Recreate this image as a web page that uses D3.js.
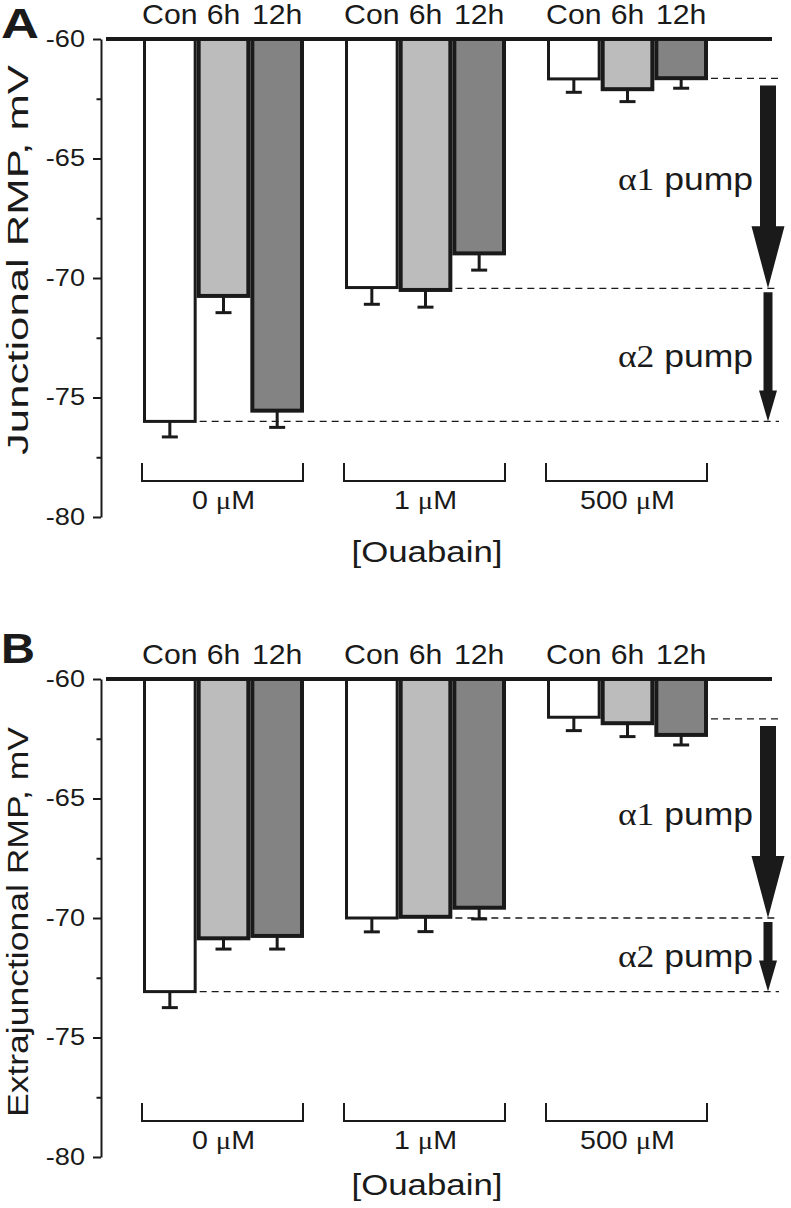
<!DOCTYPE html>
<html>
<head>
<meta charset="utf-8">
<script src="https://cdn.jsdelivr.net/npm/d3@7"></script>
<style>
  body { margin: 0; background: #fff; }
  svg text { font-family: "Liberation Sans", Arial, sans-serif; fill: #1a1a1a; }
  svg .serif { font-family: "Liberation Serif", "Times New Roman", serif; }
</style>
</head>
<body>
<svg id="chart"></svg>
<script>
// data (mV)
const groups = ["0 μM", "1 μM", "500 μM"];
const conditions = ["Con", "6h", "12h"];
const yTicks = [-60, -65, -70, -75, -80];
const yMinorTicks = [-62.5, -67.5, -72.5, -77.5];

// junctional RMP, order: group x condition
const juncMean = [-76.0, -70.75, -75.55, -70.4, -70.5, -68.97, -61.67, -62.1, -61.64];
const juncSE = [0.65, 0.7, 0.7, 0.7, 0.72, 0.7, 0.56, 0.52, 0.42];
const juncLevels = [-61.65, -70.43, -76.0];

// extrajunctional RMP
const extraMean = [-73.08, -70.85, -70.75, -70.0, -69.95, -69.57, -61.6, -61.85, -62.34];
const extraSE = [0.67, 0.45, 0.55, 0.58, 0.62, 0.47, 0.56, 0.56, 0.42];
const extraLevels = [-61.67, -70.0, -73.08];

const pumps = ["1", "2"];

const width = 791;
const height = 1208;
const ink = "#1a1a1a";
const fills = { "Con": "#ffffff", "6h": "#bcbcbc", "12h": "#838383" };
const strokeW = { "Con": 3, "6h": 4, "12h": 4 };

const svg = d3.select("#chart")
  .attr("width", width)
  .attr("height", height);

// widen text the way the figure is widened
function stretch(sel, k) {
  sel.each(function () {
    const w = this.getComputedTextLength();
    d3.select(this)
      .attr("textLength", w * k)
      .attr("lengthAdjust", "spacingAndGlyphs");
  });
}

const xGroup = d3.scaleBand()
  .domain(groups)
  .range([143, 708])
  .paddingInner(41 / 202);

const xCond = d3.scaleBand()
  .domain(conditions)
  .range([0, xGroup.bandwidth()]);

const panels = [
  { letter: "A", top: 0, letterY: 38, letterLen: 38, mean: juncMean, se: juncSE, levels: juncLevels,
    ylabel: "Junctional RMP, mV", ylabelX: 28, ylabelY: 260, xlabelDy: 45 },
  { letter: "B", top: 640, letterY: 663, letterLen: 34, mean: extraMean, se: extraSE, levels: extraLevels,
    ylabel: "Extrajunctional RMP, mV", ylabelX: 28, ylabelY: 922, xlabelDy: 38 }
];

// dashed levels start right of these bars [group, condition]
const levelAnchor = [[2, 2], [1, 1], [0, 0]];

panels.forEach(p => drawPanel(p));

function drawPanel(p) {
  const g = svg.append("g").classed("panel", true);

  const yScale = d3.scaleLinear()
    .domain([-80, -60])
    .range([517 + p.top, 39 + p.top]);
  const y0 = yScale(-60);
  const yBottom = yScale(-80);

  const bars = [];
  groups.forEach((grp, gi) => {
    conditions.forEach((cond, ci) => {
      const i = gi * conditions.length + ci;
      bars.push({ grp, cond, gi, ci, value: p.mean[i], se: p.se[i] });
    });
  });

  // dashed reference levels
  g.selectAll(".level")
    .data(p.levels)
    .enter()
    .append("line")
    .classed("level", true)
    .attr("x1", (d, i) => {
      const a = levelAnchor[i];
      return xGroup(groups[a[0]]) + xCond(conditions[a[1]]) + xCond.bandwidth() + 3;
    })
    .attr("x2", 779)
    .attr("y1", d => yScale(d))
    .attr("y2", d => yScale(d))
    .attr("stroke", ink)
    .attr("stroke-width", 1.3)
    .attr("stroke-dasharray", "7,5");

  // error bars
  const err = g.append("g").classed("errors", true);
  err.selectAll("line.stem")
    .data(bars)
    .enter()
    .append("line")
    .classed("stem", true)
    .attr("x1", d => xGroup(d.grp) + xCond(d.cond) + xCond.bandwidth() / 2)
    .attr("x2", d => xGroup(d.grp) + xCond(d.cond) + xCond.bandwidth() / 2)
    .attr("y1", d => yScale(d.value))
    .attr("y2", d => yScale(d.value - d.se))
    .attr("stroke", ink)
    .attr("stroke-width", 3);
  err.selectAll("line.cap")
    .data(bars)
    .enter()
    .append("line")
    .classed("cap", true)
    .attr("x1", d => xGroup(d.grp) + xCond(d.cond) + xCond.bandwidth() / 2 - 8)
    .attr("x2", d => xGroup(d.grp) + xCond(d.cond) + xCond.bandwidth() / 2 + 8)
    .attr("y1", d => yScale(d.value - d.se))
    .attr("y2", d => yScale(d.value - d.se))
    .attr("stroke", ink)
    .attr("stroke-width", 3);

  // bars hang down from -60
  g.append("g")
    .selectAll("rect")
    .data(bars)
    .enter()
    .append("rect")
    .classed("bar", true)
    .attr("x", d => xGroup(d.grp) + xCond(d.cond) + strokeW[d.cond] / 2)
    .attr("width", d => xCond.bandwidth() - strokeW[d.cond])
    .attr("y", y0)
    .attr("height", d => yScale(d.value) - y0)
    .attr("fill", d => fills[d.cond])
    .attr("stroke", ink)
    .attr("stroke-width", d => strokeW[d.cond]);

  // thick -60 line
  g.append("line")
    .attr("x1", 106)
    .attr("x2", 772)
    .attr("y1", y0)
    .attr("y2", y0)
    .attr("stroke", ink)
    .attr("stroke-width", 4);

  // condition labels above bars
  g.selectAll(".cond-label")
    .data(bars)
    .enter()
    .append("text")
    .classed("cond-label", true)
    .attr("x", d => xGroup(d.grp) + xCond(d.cond) + xCond.bandwidth() / 2)
    .attr("y", y0 - 15)
    .style("text-anchor", "middle")
    .style("font-size", "28px")
    .text(d => d.cond)
    .call(stretch, 1.08);

  // y axis
  const yAxis = g.append("g")
    .attr("transform", "translate(101,0)")
    .call(d3.axisLeft(yScale)
      .tickValues(yTicks)
      .tickSize(8)
      .tickSizeOuter(0)
      .tickPadding(8)
      .tickFormat(d => String(d)));
  yAxis.select(".domain").attr("stroke", ink).attr("stroke-width", 2);
  yAxis.selectAll(".tick line").attr("stroke", ink).attr("stroke-width", 2);
  yAxis.selectAll(".tick text")
    .attr("fill", ink)
    .style("font-size", "23px")
    .style("font-family", '"Liberation Sans", Arial, sans-serif')
    .call(stretch, 1.18);

  const minor = g.append("g")
    .attr("transform", "translate(101,0)")
    .call(d3.axisLeft(yScale)
      .tickValues(yMinorTicks)
      .tickSize(4.5)
      .tickFormat(""));
  minor.select(".domain").remove();
  minor.selectAll(".tick line").attr("stroke", ink).attr("stroke-width", 2);

  // y label
  g.append("text")
    .attr("transform", `translate(${p.ylabelX},${p.ylabelY}) rotate(-90)`)
    .style("text-anchor", "middle")
    .style("font-size", "30px")
    .attr("textLength", 390)
    .attr("lengthAdjust", "spacingAndGlyphs")
    .text(p.ylabel);

  // group brackets and labels
  const bTop = yBottom - 54;
  const bBot = yBottom - 36;
  g.selectAll(".bracket")
    .data(groups)
    .enter()
    .append("path")
    .classed("bracket", true)
    .attr("d", d => {
      const x0 = xGroup(d) - 1;
      const x1 = xGroup(d) + xGroup.bandwidth() - 1;
      return `M${x0},${bTop}V${bBot}H${x1}V${bTop}`;
    })
    .attr("fill", "none")
    .attr("stroke", ink)
    .attr("stroke-width", 2);

  const gl = g.selectAll(".group-label")
    .data(groups)
    .enter()
    .append("text")
    .classed("group-label", true)
    .attr("x", d => xGroup(d) + xGroup.bandwidth() / 2)
    .attr("y", yBottom - 8)
    .style("text-anchor", "middle")
    .style("font-size", "26px");
  gl.append("tspan").text(d => d.split(" ")[0] + " ");
  gl.append("tspan").classed("serif", true).text("μ");
  gl.append("tspan").text("M");
  gl.call(stretch, 1.1);

  g.append("text")
    .attr("x", 427)
    .attr("y", yBottom + p.xlabelDy)
    .style("text-anchor", "middle")
    .style("font-size", "30px")
    .text("[Ouabain]")
    .call(stretch, 1.16);

  // panel letter
  g.append("text")
    .attr("x", 1)
    .attr("y", p.letterY)
    .style("font-size", "42px")
    .style("font-weight", "bold")
    .attr("textLength", p.letterLen)
    .attr("lengthAdjust", "spacingAndGlyphs")
    .text(p.letter);

  // pump arrows between the dashed levels
  const ax = 768;
  const arrows = [
    { from: yScale(p.levels[0]) + 7, to: yScale(p.levels[1]), shaft: 16, head: 33, headLen: 62, dy: 3 },
    { from: yScale(p.levels[1]) + 4, to: yScale(p.levels[2]), shaft: 9, head: 18, headLen: 31, dy: 10 }
  ];
  g.selectAll(".arrow")
    .data(arrows)
    .enter()
    .append("polygon")
    .classed("arrow", true)
    .attr("points", d => {
      const hs = d.to - d.headLen;
      return [
        [ax - d.shaft / 2, d.from], [ax + d.shaft / 2, d.from], [ax + d.shaft / 2, hs],
        [ax + d.head / 2, hs], [ax, d.to], [ax - d.head / 2, hs], [ax - d.shaft / 2, hs]
      ].join(" ");
    })
    .attr("fill", ink);

  const pl = g.selectAll(".pump-label")
    .data(arrows)
    .enter()
    .append("text")
    .classed("pump-label", true)
    .attr("x", 753)
    .attr("y", d => (d.from + d.to) / 2 + d.dy)
    .style("text-anchor", "end")
    .style("font-size", "32px")
    .attr("textLength", 135)
    .attr("lengthAdjust", "spacingAndGlyphs");
  pl.append("tspan").classed("serif", true).text((d, i) => "α" + pumps[i]);
  pl.append("tspan").text(" pump");
}
</script>
</body>
</html>
